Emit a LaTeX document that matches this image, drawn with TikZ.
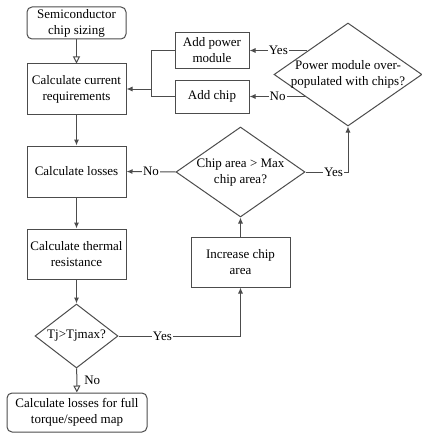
\documentclass[tikz,border=0pt]{standalone}
\usepackage{fontspec}
\setmainfont{Liberation Serif}
\usetikzlibrary{shapes.geometric,arrows.meta}

\begin{document}
\begin{tikzpicture}
  [x=1pt,y=1pt,line width=1pt,
   font=\fontsize{13}{16}\selectfont,
   % Styles
   process/.style={draw=black!70,align=center,inner sep=0pt},
   terminal/.style={process,rounded corners=5pt},
   decision/.style={draw=black!70,diamond,align=center,inner sep=0pt},
   link/.style={draw=black!70},
   flow/.style={link,-{Latex[length=6pt,width=5pt]}},
   open flow/.style={link,-{Triangle[open,length=7pt,width=7pt]}},
   answer/.style={fill=white,inner sep=1pt}]

  \useasboundingbox (0,0) rectangle (422,-436);

  % Main column
  \node[terminal,minimum width=99pt,minimum height=32pt] (start) at (76.5,-23)
    {Semiconductor\\chip sizing};
  \node[process,minimum width=99pt,minimum height=50pt] (current) at (76.5,-89)
    {Calculate current\\requirements};
  \node[process,minimum width=99pt,minimum height=51pt] (losses) at (76.5,-171.5)
    {Calculate losses};
  \node[process,minimum width=99pt,minimum height=50pt] (thermal) at (76.5,-254)
    {Calculate thermal\\resistance};
  \node[decision,aspect=1.3,minimum width=83pt,minimum height=64pt] (tj) at (76.5,-336)
    {Tj>Tjmax?};
  \node[terminal,minimum width=140pt,minimum height=39pt] (final) at (77,-412.5)
    {Calculate losses for full\\torque/speed map};

  % Chip loop
  \node[process,minimum width=99pt,minimum height=50pt] (increase) at (240.5,-262)
    {Increase chip\\area};
  \node[decision,aspect=1.43,inner sep=-3pt,minimum width=129pt,minimum height=90pt] (maxarea) at (240.5,-172)
    {Chip area > Max\\chip area?};
  \node[decision,aspect=1.44,inner sep=-4pt,minimum width=148pt,minimum height=103pt] (crowded) at (348,-74.5)
    {Power module over-\\populated with chips?};
  \node[process,minimum width=74pt,minimum height=35pt] (addmodule) at (212,-50.5)
    {Add power\\module};
  \node[process,minimum width=74pt,minimum height=33pt] (addchip) at (212,-96.5)
    {Add chip};

  \coordinate (join) at (151,-89);

  % Connectors
  \draw[open flow] (start) -- (current);
  \draw[flow] (current) -- (losses);
  \draw[flow] (losses) -- (thermal);
  \draw[flow] (thermal) -- (tj);
  \draw[open flow] (tj) -- node[right,inner sep=7pt] {No} (final);

  \draw[flow] (tj.east) -| node[answer,pos=0.18] {Yes} (increase);
  \draw[flow] (increase) -- (maxarea);
  \draw[flow] (maxarea.west) -- node[answer] {No} (losses.east);
  \draw[flow] (maxarea.east) -| node[answer,pos=0.33] {Yes} (crowded.south);

  \draw[flow] (crowded.150 |- addmodule.east) -- node[answer] {Yes} (addmodule.east);
  \draw[flow] (crowded.208 |- addchip.east) -- node[answer] {No} (addchip.east);

  \draw[link] (addmodule.west) -| (join |- addchip.west) -- (addchip.west);
  \draw[flow] (join) -- (current.east);
\end{tikzpicture}
\end{document}
